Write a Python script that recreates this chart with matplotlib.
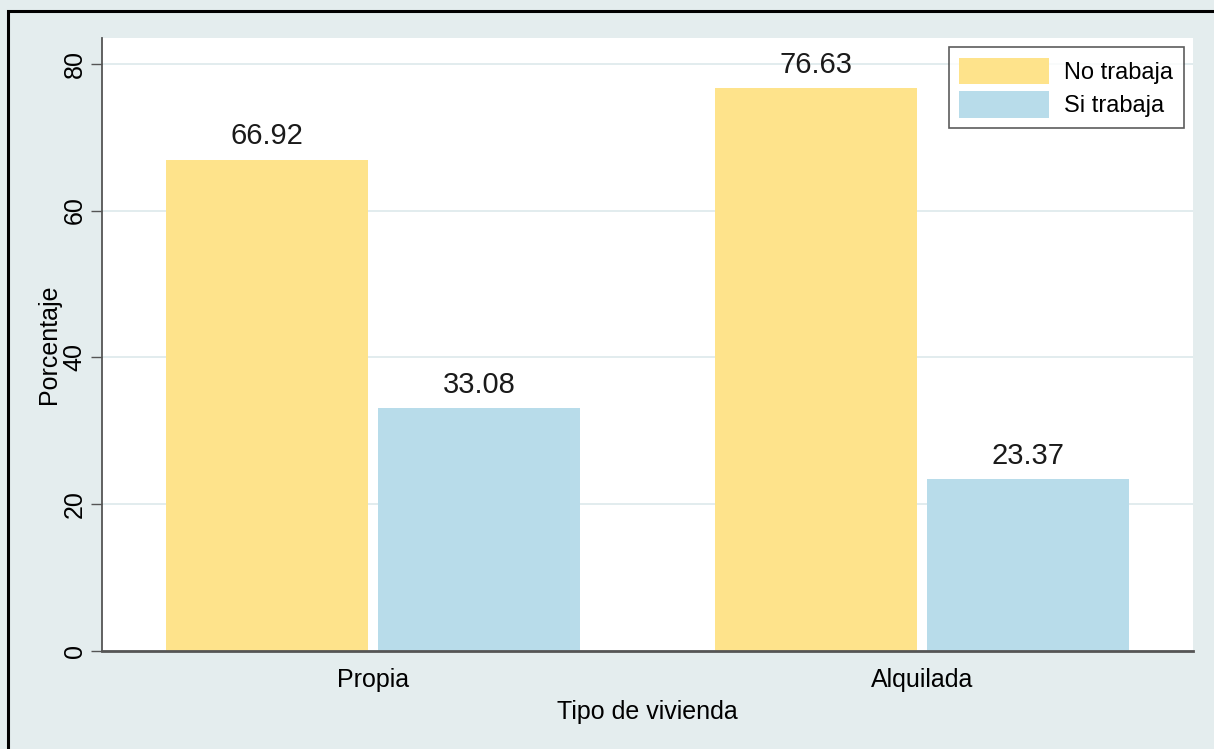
import numpy as np
import matplotlib.pyplot as plt
from matplotlib.patches import Rectangle

categories = ["Propia", "Alquilada"]
no_trabaja = [66.92, 76.63]
si_trabaja = [33.08, 23.37]
series_names = ["No trabaja", "Si trabaja"]

plt.rcParams["font.family"] = ["Liberation Sans", "DejaVu Sans"]

bg = "#e4edee"
yellow = "#fee38b"
blue = "#b8dcea"

fig = plt.figure(figsize=(12.14, 7.49), dpi=100, facecolor=bg)
# black frame around the graph (right and bottom edges fall outside the image)
fig.add_artist(Rectangle((8 / 1214, -0.05), 1.1, 1.05 - 11 / 749, transform=fig.transFigure,
                         fill=False, edgecolor="black", linewidth=2.2))

ax = fig.add_axes([102 / 1214, 98 / 749, 1091 / 1214, 613 / 749])
ax.set_facecolor("white")

x = np.arange(len(categories))
w = 0.368
off = 0.193
b1 = ax.bar(x - off, no_trabaja, w, color=yellow, label=series_names[0], zorder=2)
b2 = ax.bar(x + off, si_trabaja, w, color=blue, label=series_names[1], zorder=2)

for bars, vals in [(b1, no_trabaja), (b2, si_trabaja)]:
    for r, v in zip(bars, vals):
        ax.text(r.get_x() + r.get_width() / 2, v + 1.3, f"{v:.2f}", ha="center", va="bottom",
                fontsize=21, color="#1a1a1a")

ax.set_xlim(-0.4936, 1.4936)
ax.set_ylim(0, 83.5)
ax.set_yticks([0, 20, 40, 60, 80])
ax.set_yticklabels(["0", "20", "40", "60", "80"], rotation=90, va="center", fontsize=18)
ax.set_xticks(x)
ax.set_xticklabels(categories, fontsize=18)
ax.tick_params(axis="x", length=0, pad=12)
ax.tick_params(axis="y", length=8, width=1, color="#555555", pad=3)
ax.grid(axis="y", color="#dde9eb", linewidth=1.2, zorder=0)
ax.set_axisbelow(True)

for s in ["top", "right"]:
    ax.spines[s].set_visible(False)
ax.spines["left"].set_color("#555555")
ax.spines["bottom"].set_color("#555555")
ax.spines["left"].set_linewidth(1.3)
ax.spines["bottom"].set_linewidth(2)

ax.set_xlabel("Tipo de vivienda", fontsize=18, labelpad=6)
ax.set_ylabel("Porcentaje", fontsize=18, labelpad=1.5)

leg = ax.legend(loc="upper right", bbox_to_anchor=(0.9917, 0.9853), borderaxespad=0, fontsize=17,
                frameon=True, fancybox=False, edgecolor="#333333", handlelength=3.8, handleheight=1.35,
                borderpad=0.45, labelspacing=0.3, handletextpad=0.65)
leg.get_frame().set_linewidth(1.2)

fig.savefig("out.png", dpi=100, facecolor=bg)
